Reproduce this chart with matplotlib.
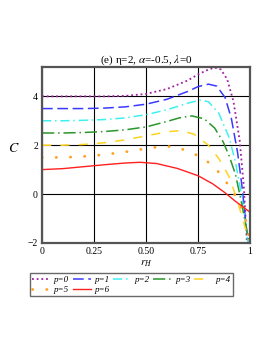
import matplotlib
matplotlib.use('Agg')
import matplotlib.pyplot as plt

plt.rcParams['font.family'] = ['Liberation Serif', 'DejaVu Serif']
plt.rcParams['mathtext.fontset'] = 'stix'

# curves, C versus r_H
x0 = [0, 0.1, 0.2, 0.3, 0.4, 0.5, 0.6, 0.7, 0.75, 0.8, 0.83, 0.86, 0.89, 0.92, 0.95, 0.97, 0.985]
y0 = [4.0, 4.0, 4.0, 4.0, 4.02, 4.1, 4.3, 4.65, 4.9, 5.1, 5.18, 5.1, 4.7, 3.8, 2.2, 0.3, -2.0]
x1 = [0, 0.1, 0.2, 0.3, 0.4, 0.5, 0.6, 0.7, 0.75, 0.8, 0.84, 0.88, 0.91, 0.94, 0.96, 0.98, 0.99]
y1 = [3.5, 3.5, 3.5, 3.52, 3.57, 3.68, 3.88, 4.2, 4.4, 4.5, 4.42, 3.95, 3.1, 1.7, 0.4, -1.2, -2.0]
x2 = [0, 0.1, 0.2, 0.3, 0.4, 0.5, 0.6, 0.7, 0.76, 0.8, 0.85, 0.9, 0.93, 0.96, 0.98, 0.99]
y2 = [3.0, 3.0, 3.02, 3.05, 3.12, 3.25, 3.45, 3.72, 3.85, 3.78, 3.3, 2.3, 1.3, -0.1, -1.3, -2.0]
x3 = [0, 0.1, 0.2, 0.3, 0.4, 0.5, 0.6, 0.66, 0.72, 0.78, 0.83, 0.87, 0.9, 0.93, 0.96, 0.98, 0.995]
y3 = [2.5, 2.5, 2.52, 2.56, 2.63, 2.75, 2.97, 3.12, 3.2, 3.08, 2.7, 2.15, 1.55, 0.8, -0.4, -1.3, -2.0]
x4 = [0, 0.1, 0.2, 0.3, 0.4, 0.5, 0.6, 0.67, 0.73, 0.8, 0.85, 0.9, 0.94, 0.97, 1.0]
y4 = [2.0, 2.0, 2.03, 2.1, 2.22, 2.38, 2.55, 2.6, 2.45, 2.0, 1.45, 0.7, -0.3, -1.2, -2.0]
x5 = [0, 0.08, 0.16, 0.24, 0.31, 0.39, 0.46, 0.54, 0.62, 0.69, 0.75, 0.82, 0.87, 0.91, 0.95, 0.98, 1.0]
y5 = [1.5, 1.5, 1.52, 1.56, 1.63, 1.71, 1.81, 1.91, 1.95, 1.8, 1.57, 1.19, 0.68, 0.19, -0.36, -1.1, -2.0]
x6 = [0, 0.1, 0.2, 0.3, 0.4, 0.47, 0.55, 0.65, 0.75, 0.82, 0.88, 0.93, 0.97, 1.0]
y6 = [1.0, 1.04, 1.12, 1.2, 1.27, 1.3, 1.25, 1.05, 0.75, 0.42, 0.05, -0.3, -0.55, -0.75]

labels = ['p=0', 'p=1', 'p=2', 'p=3', 'p=4', 'p=5', 'p=6']
xticks = [0, 0.25, 0.5, 0.75, 1]
xticklabels = ['0', '0.25', '0.50', '0.75', '1']
yticks = [-2, 0, 2, 4]

fig = plt.figure(figsize=(2.73, 3.53), dpi=100)
axe = fig.add_axes([0.154, 0.312, 0.762, 0.498])

l0, = axe.plot(x0, y0, color='#a020a0', lw=1.3, linestyle=(0, (1, 1.6)), label=labels[0])
l1, = axe.plot(x1, y1, color='#3a3aff', lw=1.1, linestyle=(0, (7, 3)), label=labels[1])
l2, = axe.plot(x2, y2, color='#40f0f0', lw=1.1, linestyle=(0, (6, 2.5, 1, 2.5)), label=labels[2])
l3, = axe.plot(x3, y3, color='#2a962a', lw=1.1, linestyle=(0, (8, 2.5, 1, 2.5)), label=labels[3])
l4, = axe.plot(x4, y4, color='#ffd21e', lw=1.1, linestyle=(0, (6, 6)), label=labels[4])
l5, = axe.plot(x5, y5, color='#ffa020', lw=2.0, linestyle=(0, (0.1, 5)),
               dash_capstyle='round', label=labels[5])
l6, = axe.plot(x6, y6, color='#ff2020', lw=1.0, label=labels[6])

axe.set_xlim(0, 1)
axe.set_ylim(-2, 5.2)
axe.set_xticks(xticks)
axe.set_xticklabels(xticklabels)
axe.set_yticks(yticks)
axe.tick_params(length=0, labelsize=7, pad=3)
axe.grid(True, color='black', lw=0.8)
for s in axe.spines.values():
    s.set_color('#555555')
    s.set_linewidth(1.6)

axe.set_title(r'(e) η=2, $\alpha$=-0.5, $\lambda$=0', fontsize=8, pad=2)
axe.set_xlabel(r'$r_H$', fontsize=8, labelpad=2)
axe.set_ylabel(r'$C$', fontsize=10, rotation=0, labelpad=10)

# legend fills column by column, so order handles to read row by row
order = [l0, l5, l1, l6, l2, l3, l4]
fig.legend(order, [h.get_label() for h in order],
           loc='upper left', bbox_to_anchor=(0.11, 0.226), ncol=5,
           prop={'style': 'italic', 'size': 6.5},
           frameon=True, fancybox=False, edgecolor='#444444',
           handlelength=2.0, handletextpad=0.4, columnspacing=0.4,
           borderpad=0.25, labelspacing=0.2, borderaxespad=0)

fig.savefig('out.png', dpi=100)
plt.close()
